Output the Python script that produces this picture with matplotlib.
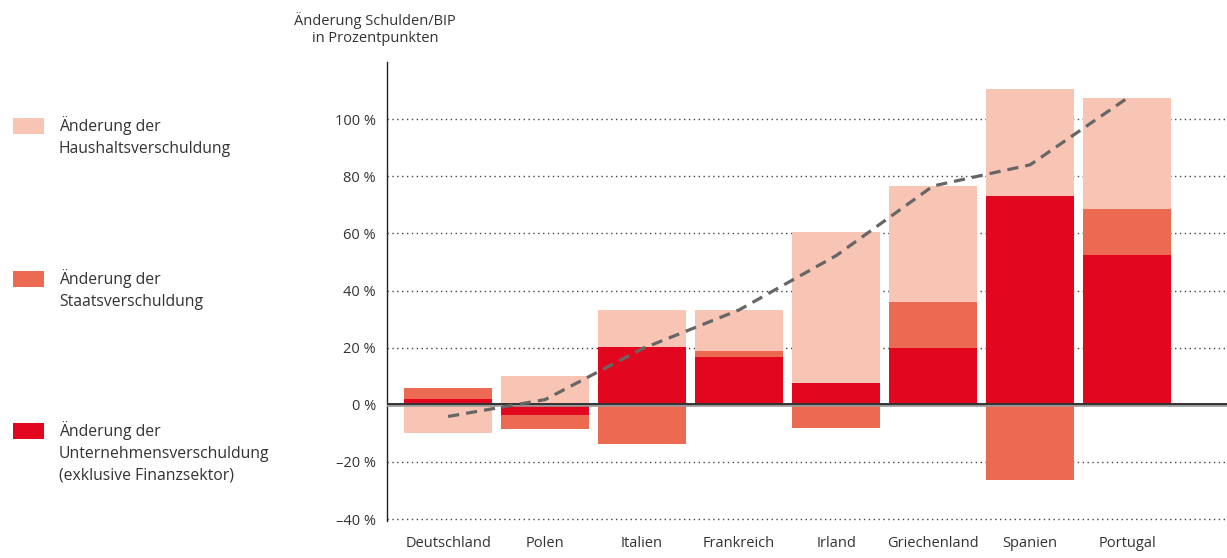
import numpy as np
import matplotlib
matplotlib.use("Agg")
import matplotlib.pyplot as plt
from matplotlib.patches import Rectangle

plt.rcParams['font.family'] = ['Open Sans', 'DejaVu Sans']

# Daten (Prozentpunkte Schulden/BIP)
laender = ["Deutschland", "Polen", "Italien", "Frankreich", "Irland",
           "Griechenland", "Spanien", "Portugal"]
unternehmen = [2.1, -3.5, 20.3, 16.8, 7.7, 19.7, 73.1, 52.4]
staat = [3.8, -4.9, -13.6, 2.1, -8.3, 16.3, -26.5, 16.2]
haushalte = [-10.0, 10.2, 12.9, 14.3, 52.8, 40.6, 37.4, 38.7]

y_ticks = [-40, -20, 0, 20, 40, 60, 80, 100]

c_haus = "#F8C4B3"
c_staat = "#EC6A52"
c_unt = "#E2061E"
c_text = "#333333"

fig = plt.figure(figsize=(12.27, 5.58), dpi=100)
ax = fig.add_axes([387/1227, 37/558, 1 - 387/1227, (521-62)/558])

x = np.arange(len(laender))
serien = [(unternehmen, c_unt), (staat, c_staat), (haushalte, c_haus)]

# positive und negative Teile getrennt stapeln
pos_base = np.zeros(len(laender))
neg_base = np.zeros(len(laender))
for werte, farbe in serien:
    w = np.array(werte)
    pos = np.where(w > 0, w, 0)
    neg = np.where(w < 0, w, 0)
    ax.bar(x, pos, bottom=pos_base, width=0.9, color=farbe, zorder=3, linewidth=0)
    ax.bar(x, neg, bottom=neg_base, width=0.9, color=farbe, zorder=3, linewidth=0)
    pos_base += pos
    neg_base += neg

netto = np.array(unternehmen) + np.array(staat) + np.array(haushalte)
ax.plot(x, netto, color="#666666", lw=2.3, dashes=(3.5, 2.2), zorder=5,
        solid_capstyle="butt")

ax.set_xlim(-0.63, 8.03)
ax.set_ylim(-40.7, 120)
ax.set_yticks(y_ticks)
ax.set_yticklabels([("\u2013%d %%" % -t) if t < 0 else "%d %%" % t for t in y_ticks])
ax.set_xticks(x)
ax.set_xticklabels(laender)
ax.tick_params(length=0, labelsize=10.5, colors=c_text)
ax.tick_params(axis="y", pad=8)
ax.tick_params(axis="x", pad=11)

for t in y_ticks:
    if t != 0:
        ax.axhline(t, color="#444444", lw=1.0, ls=(0, (1, 2.5)), zorder=1)
ax.axhline(0, color="#999999", lw=2.6, zorder=4)
ax.axhline(0.15, color="#222222", lw=1.2, zorder=4)

for s in ["top", "right", "bottom"]:
    ax.spines[s].set_visible(False)
ax.spines["left"].set_color("#222222")
ax.spines["left"].set_linewidth(1.0)

fig.text(375/1227, 1 - 29/558, "Änderung Schulden/BIP\nin Prozentpunkten",
         ha="center", va="center", fontsize=10.5, color=c_text, linespacing=1.25)

# Legende links
legende = [
    (c_haus, "Änderung der\nHaushaltsverschuldung", 126),
    (c_staat, "Änderung der\nStaatsverschuldung", 279),
    (c_unt, "Änderung der\nUnternehmensverschuldung\n(exklusive Finanzsektor)", 431),
]
for farbe, text, ypix in legende:
    fig.add_artist(Rectangle((13/1227, 1 - (ypix + 8)/558), 31/1227, 16/558,
                             transform=fig.transFigure, color=farbe, lw=0))
    fig.text(59/1227, 1 - (ypix - 10)/558, text, ha="left", va="top",
             fontsize=11.3, color=c_text, linespacing=1.5)

fig.savefig("out.png", dpi=100)
